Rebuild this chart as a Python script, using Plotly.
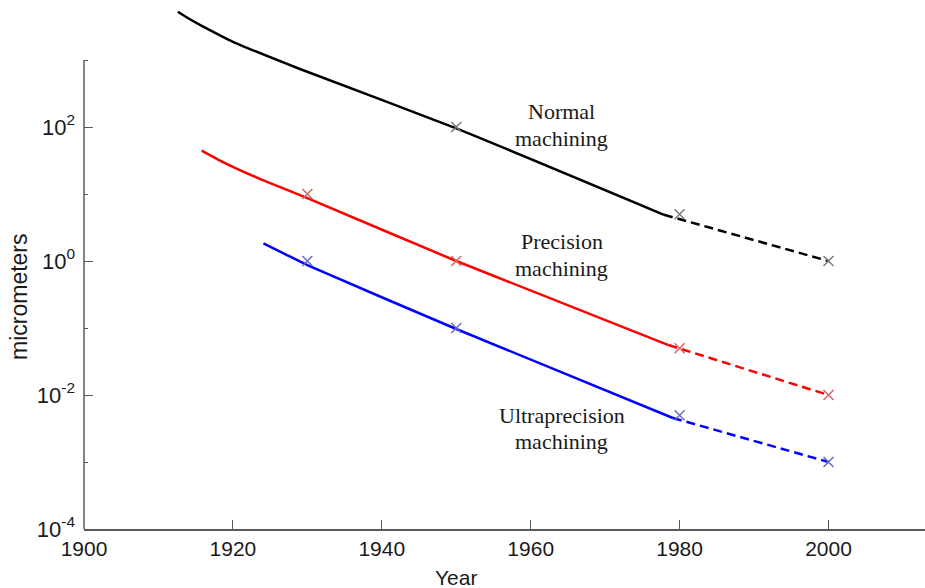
import plotly.graph_objects as go
import math

# ---- data ----
black_years = [1912.6, 1914, 1916, 1918, 1920, 1929, 1950, 1977.9]
black_vals = [5260, 4200, 3150, 2420, 1873, 735, 95.5, 4.9]
black_dash_years = [1977.9, 2000]
black_dash_vals = [4.9, 1.0]
black_mark_years = [1950, 1980, 2000]
black_mark_vals = [100, 5, 1]

red_years = [1915.8, 1918, 1921, 1925, 1930, 1950, 1978.5]
red_vals = [44.3, 32.7, 22.6, 14.5, 8.7, 1.0, 0.0557]
red_dash_years = [1978.5, 2000]
red_dash_vals = [0.0557, 0.01]
red_mark_years = [1930, 1950, 1980, 2000]
red_mark_vals = [10, 1, 0.05, 0.01]

blue_years = [1924.1, 1927, 1930, 1950, 1979.1]
blue_vals = [1.84, 1.27, 0.87, 0.0966, 0.00454]
blue_dash_years = [1979.1, 2000]
blue_dash_vals = [0.00454, 0.001]
blue_mark_years = [1930, 1950, 1980, 2000]
blue_mark_vals = [1, 0.1, 0.005, 0.001]

x_ticks = [1900, 1920, 1940, 1960, 1980, 2000]
y_major = [1e-4, 1e-2, 1, 1e2]
y_major_text = ["10<sup>-4</sup>", "10<sup>-2</sup>", "10<sup>0</sup>", "10<sup>2</sup>"]
y_minor = [1e-3, 1e-1, 10, 1e3]

label_lines = ["Normal", "machining", "Precision", "machining", "Ultraprecision", "machining"]

# ---- layout geometry (pixels in a 925x588 canvas) ----
PLOT_L, PLOT_B = 84, 529
PX_PER_DEC = 67.0
Y_TOP_LOG = 3.0  # log value at pixel row 60


def row_to_log(row):
    return Y_TOP_LOG - (row - 60) / PX_PER_DEC


label_rows = [111.7, 138, 241.7, 268, 415, 441.7]
label_year = 1964.2

fig = go.Figure()

series = [
    (black_years, black_vals, black_dash_years, black_dash_vals, black_mark_years, black_mark_vals, "#000000", "#7a7a7a"),
    (red_years, red_vals, red_dash_years, red_dash_vals, red_mark_years, red_mark_vals, "#ff0000", "#cc6a6a"),
    (blue_years, blue_vals, blue_dash_years, blue_dash_vals, blue_mark_years, blue_mark_vals, "#0000ff", "#6a6ac4"),
]

for ys, vs, dys, dvs, mys, mvs, col, mcol in series:
    fig.add_trace(go.Scatter(x=ys, y=vs, mode="lines",
                             line=dict(color=col, width=2.5, shape="spline", smoothing=0.5),
                             showlegend=False, hoverinfo="skip"))
    fig.add_trace(go.Scatter(x=dys, y=dvs, mode="lines",
                             line=dict(color=col, width=2.5, dash="9px,5px"),
                             showlegend=False, hoverinfo="skip"))
    fig.add_trace(go.Scatter(x=mys, y=mvs, mode="markers",
                             marker=dict(symbol="x-thin", size=10, line=dict(color=mcol, width=1.5)),
                             showlegend=False, hoverinfo="skip"))

for txt, row in zip(label_lines, label_rows):
    fig.add_annotation(x=label_year, y=row_to_log(row), xref="x", yref="y", text=txt, showarrow=False,
                       font=dict(family="Liberation Serif", size=22, color="#1a1a1a"),
                       xanchor="center", yanchor="middle")

# y-axis line only from 1e-4 to 1e3
fig.add_shape(type="line", xref="paper", yref="y", x0=0, x1=0, y0=1e-4, y1=1e3,
              line=dict(color="#5a5a5a", width=1.5))

fig.add_annotation(text="micrometers", xref="paper", yref="paper", x=(19 - PLOT_L) / 841,
                   y=(PLOT_B - 297) / PLOT_B,
                   showarrow=False, textangle=-90, xanchor="center", yanchor="middle",
                   font=dict(family="Liberation Sans", size=23, color="#1a1a1a"))
fig.add_annotation(text="Year", xref="x", yref="paper", x=1950, y=(PLOT_B - 577) / PLOT_B,
                   showarrow=False, xanchor="center", yanchor="middle",
                   font=dict(family="Liberation Sans", size=21, color="#1a1a1a"))

fig.update_layout(
    width=925, height=588,
    margin=dict(l=PLOT_L, r=0, t=0, b=588 - PLOT_B),
    paper_bgcolor="white", plot_bgcolor="white",
    xaxis=dict(range=[1900, 2012.96], tickvals=x_ticks, ticks="inside", ticklen=9, tickwidth=1.2,
               tickcolor="#5a5a5a", showline=True, linecolor="#5a5a5a", linewidth=1.5,
               showgrid=False, zeroline=False,
               tickfont=dict(family="Liberation Sans", size=21, color="#1a1a1a")),
    yaxis=dict(type="log", range=[-4, 3.896], tickvals=y_major, ticktext=y_major_text,
               ticks="inside", ticklen=9, tickwidth=1.2, tickcolor="#5a5a5a",
               showline=False, showgrid=False, zeroline=False, ticklabelstandoff=8,
               minor=dict(tickmode="array", tickvals=y_minor, ticks="inside", ticklen=4,
                          tickwidth=1.2, tickcolor="#5a5a5a", showgrid=False),
               tickfont=dict(family="Liberation Sans", size=22, color="#1a1a1a")),
)

fig.write_html("out.html")
